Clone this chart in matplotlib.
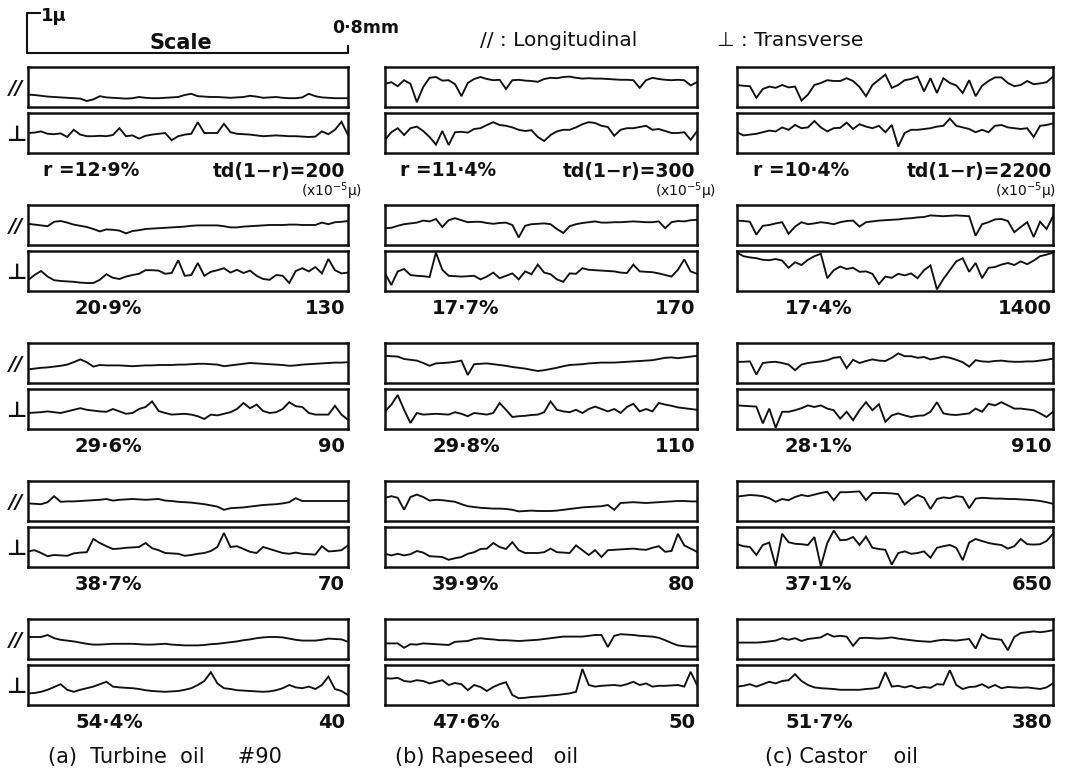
import matplotlib
matplotlib.use("Agg")
import matplotlib.pyplot as plt
import numpy as np

plt.rcParams['font.family'] = ['DejaVu Sans']

# ---------------- data (profile heights in 0.01 micron, 0.8 mm traverse) -------------
r_turbine = [12.9, 20.9, 29.6, 38.7, 54.4]
r_rapeseed = [11.4, 17.7, 29.8, 39.9, 47.6]
r_castor = [10.4, 17.4, 28.1, 37.1, 51.7]
td_turbine = [200, 130, 90, 70, 40]
td_rapeseed = [300, 170, 110, 80, 50]
td_castor = [2200, 1400, 910, 650, 380]
captions = ["(a)  Turbine  oil     #90", "(b) Rapeseed   oil", "(c) Castor    oil"]

turbine_long = [
    [31,30,28,26,25,24,23,22,21,15, 19,27,24,23,22,21,22,25,23,22, 22,23,24,25,30,33,27,26,25,25,
     24,23,24,25,28,26,23,24,25,23, 22,22,24,33,27,24,23,22,22,22],
    [53,51,49,47,58,60,56,51,48,45, 40,34,39,38,36,29,35,37,40,41, 42,43,44,45,46,48,49,49,49,49,
     47,44,44,46,47,48,49,50,50,50, 51,51,50,50,50,56,52,57,58,60],
    [34,36,38,39,41,43,46,52,59,52, 41,45,44,44,44,43,42,43,44,44, 45,45,45,46,46,47,48,48,47,46,
     42,44,46,48,50,49,48,47,46,45, 43,44,46,47,48,49,50,51,51,52],
    [44,43,42,47,62,48,49,49,50,51, 52,53,55,51,53,54,55,54,53,54, 55,51,50,48,47,46,44,42,39,36,
     28,32,33,34,36,38,40,41,42,44, 47,57,50,50,50,50,50,50,50,50],
    [55,55,55,60,52,48,46,44,41,38, 36,36,37,38,38,38,38,37,36,36, 37,38,36,35,34,34,34,35,37,38,
     40,42,44,47,49,52,54,55,55,54, 51,48,46,46,46,48,51,50,49,43],
]
turbine_trans = [
    [50,51,54,48,47,49,40,58,46,42, 42,43,42,45,62,42,44,36,43,46, 48,50,32,42,46,48,77,50,50,50,
     73,52,48,47,46,44,42,43,44,43, 42,42,41,40,41,54,47,58,78,45],
    [27,40,50,36,27,25,24,23,21,20, 20,28,42,33,30,36,40,43,52,52, 51,43,45,77,38,40,70,38,48,52,
     57,46,53,45,51,38,30,28,40,38, 20,50,57,49,60,44,80,52,44,46],
    [40,41,42,44,42,40,44,48,52,48, 46,44,43,50,44,38,40,50,55,69, 45,40,36,37,38,36,32,25,36,34,
     38,42,50,65,52,61,45,40,42,50, 67,57,55,40,36,36,36,58,36,23],
    [39,42,35,27,30,29,28,34,36,37, 70,60,52,45,46,48,49,50,60,47, 42,35,34,33,28,30,33,35,40,50,
     85,50,52,45,38,35,50,45,40,35, 33,36,33,32,31,52,39,40,42,54],
    [29,30,33,38,45,52,38,33,38,42, 46,52,58,46,44,43,42,40,37,35, 34,33,34,35,38,42,50,60,82,54,
     42,40,37,36,35,34,33,34,37,42, 50,44,42,46,40,50,71,40,35,25],
]
rapeseed_long = [
    [58,62,52,67,58,12,50,73,75,66, 67,57,27,60,70,75,70,67,68,45, 67,68,66,65,63,70,73,72,75,76,
     73,71,72,71,71,70,69,68,68,67, 48,67,73,70,68,67,68,67,54,62],
    [42,43,48,52,54,56,61,59,65,45, 62,67,62,57,58,58,55,53,55,56, 50,19,48,52,53,54,52,40,30,47,
     52,55,57,59,56,56,57,57,58,59, 58,57,57,59,42,57,60,59,62,63],
    [68,67,66,60,58,56,50,43,49,50, 51,53,56,20,47,48,49,47,45,43, 40,38,36,33,30,32,35,38,42,45,
     46,47,49,50,51,51,51,52,53,54, 55,56,57,60,63,64,62,64,66,68],
    [58,62,58,28,60,66,60,51,53,52, 50,48,42,37,35,33,32,31,31,30, 28,24,25,26,25,25,25,26,28,30,
     32,34,35,36,37,40,28,45,46,47, 46,45,46,47,48,49,50,50,49,49],
    [39,39,39,28,37,36,39,38,37,36, 35,43,44,45,50,52,50,49,47,47, 46,45,46,47,48,50,52,54,56,56,
     56,56,58,60,60,30,58,62,61,60, 58,57,56,53,47,40,34,32,31,31],
]
rapeseed_trans = [
    [33,52,62,45,62,66,55,40,21,55, 20,52,53,51,60,62,70,77,70,68, 64,58,55,57,40,30,45,54,58,58,
     64,72,77,75,68,65,43,58,62,62, 65,68,58,60,55,50,50,52,33,54],
    [44,15,49,55,40,38,37,35,96,53, 38,37,36,37,38,29,36,46,32,38, 44,29,49,42,66,46,42,29,23,44,
     43,57,53,52,51,50,49,46,45,66, 49,48,47,44,40,36,53,79,49,43],
    [44,61,85,48,15,40,36,37,38,37, 36,42,38,32,40,38,36,40,65,48, 30,32,33,35,36,42,69,48,44,42,
     48,40,50,56,50,44,50,40,55,63, 44,50,44,65,61,58,54,52,50,48],
    [33,29,33,29,32,40,36,27,26,25, 18,22,25,33,37,45,46,60,50,45, 62,42,35,35,35,37,46,37,36,35,
     54,42,30,42,25,42,43,44,45,46, 44,43,48,52,38,40,83,54,46,38],
    [67,66,68,60,58,62,60,54,58,62, 50,55,52,37,50,45,35,45,52,57, 25,17,18,20,21,22,24,25,27,29,
     33,90,50,46,48,49,50,48,52,58, 50,54,46,48,48,49,50,46,83,50],
]
castor_long = [
    [55,53,52,23,45,51,48,55,49,51, 16,31,55,60,67,65,65,72,65,50, 27,55,68,81,48,55,67,70,76,39,
     72,35,72,60,54,35,67,27,53,65, 74,74,60,52,55,65,57,59,62,76],
    [61,60,58,26,48,50,54,57,28,46, 57,52,54,57,55,52,57,60,61,46, 57,59,61,62,63,64,66,67,69,70,
     74,73,72,73,74,73,72,23,52,57, 64,65,60,32,45,57,20,58,40,72],
    [53,53,54,21,50,52,53,50,46,32, 46,50,52,54,57,63,65,37,58,50, 55,59,56,55,63,74,67,67,63,65,
     59,62,66,63,58,52,41,57,54,53, 55,56,54,53,53,54,54,56,58,61],
    [61,63,65,64,62,57,48,55,52,60, 65,62,66,70,73,52,72,72,73,74, 52,70,70,70,69,67,41,55,65,58,
     30,55,59,57,62,60,32,56,58,57, 56,56,55,55,54,53,52,50,47,43],
    [41,41,41,41,42,44,46,52,48,52, 45,50,52,54,63,56,58,56,33,52, 53,52,51,52,54,51,49,47,45,44,
     43,46,48,47,46,48,50,26,62,52, 50,48,22,55,65,67,69,67,69,72],
]
castor_trans = [
    [52,44,46,48,52,56,54,64,58,70, 62,64,80,64,54,62,63,76,60,72, 66,62,68,52,70,16,50,58,58,60,
     62,66,68,86,68,64,60,52,58,52, 68,70,64,62,60,62,40,68,70,74],
    [96,87,84,82,78,77,80,76,58,72, 65,78,87,93,32,52,61,55,58,48, 49,43,17,36,33,43,39,44,32,52,
     64,4,30,52,74,82,48,70,32,58, 60,66,70,65,74,67,76,87,91,96],
    [59,58,57,56,14,51,3,43,43,47, 52,59,55,59,51,47,26,43,22,47, 67,47,62,18,34,39,34,30,33,34,
     43,67,39,36,35,37,39,51,43,63, 59,67,59,51,51,49,47,39,30,43],
    [57,52,50,30,55,61,2,83,62,58, 57,55,75,2,60,91,67,68,75,55, 76,48,45,43,6,35,39,33,35,39,
     23,48,52,55,48,17,61,70,65,60, 57,55,46,52,70,57,56,57,65,83],
    [46,48,52,46,52,58,54,60,62,77, 60,50,44,42,41,40,38,38,38,38, 40,41,44,82,46,48,44,48,42,45,
     43,52,51,87,50,40,45,46,52,43, 50,42,45,44,43,44,42,40,44,54],
]

# ---------------- layout ------------------------------------------------------------
W, H = 1066, 771
fig = plt.figure(figsize=(W / 100, H / 100), dpi=100)
ink = '#111111'

col_left = [28, 385, 737]
col_right = [348, 697, 1053]
pitch = 138
long_top, trans_top, box_h = 67, 113, 40

columns = [
    (turbine_long, turbine_trans, r_turbine, td_turbine),
    (rapeseed_long, rapeseed_trans, r_rapeseed, td_rapeseed),
    (castor_long, castor_trans, r_castor, td_castor),
]

for c, (longs, transs, rs, tds) in enumerate(columns):
    L, R = col_left[c], col_right[c]
    for k in range(5):
        for top, vals in ((long_top + pitch * k, longs[k]), (trans_top + pitch * k, transs[k])):
            ax = fig.add_axes([L / W, 1 - (top + box_h) / H, (R - L) / W, box_h / H])
            v = np.array(vals, dtype=float) / 100.0
            x = np.linspace(0.0, 0.8, len(v))
            ax.plot(x, v, color=ink, lw=1.35, solid_joinstyle='miter')
            ax.set_xlim(0, 0.8)
            ax.set_ylim(0, 1)
            ax.set_xticks([])
            ax.set_yticks([])
            for s in ax.spines.values():
                s.set_linewidth(1.8)
                s.set_color(ink)

# overlay for annotations in pixel coordinates
ov = fig.add_axes([0, 0, 1, 1], zorder=5)
ov.set_xlim(0, W)
ov.set_ylim(H, 0)
ov.axis('off')
ov.patch.set_alpha(0)

tw = dict(color=ink, fontweight='bold')

# scale bracket
ov.plot([40, 27, 27, 348, 348], [13, 13, 53, 53, 46], color=ink, lw=1.5)
ov.text(41, 16, "1μ", fontsize=13, va='center', ha='left', **tw)
ov.text(181, 43, "Scale", fontsize=15, va='center', ha='center', **tw)
ov.text(332, 28, "0·8mm", fontsize=12.5, va='center', ha='left', **tw)
ov.text(480, 40, "// : Longitudinal", fontsize=14.5, va='center', ha='left', color=ink)
ov.text(717, 40, "⊥ : Transverse", fontsize=14.5, va='center', ha='left', color=ink)

# side symbols
for k in range(5):
    ov.text(16, long_top + pitch * k + box_h / 2 + 1, "//", fontsize=14, va='center',
            ha='center', color=ink, fontstyle='italic', fontweight='bold')
    ov.text(16, trans_top + pitch * k + box_h / 2 + 2, "⊥", fontsize=16, va='center',
            ha='center', **tw)

def fmt(v):
    return f"{v:.1f}".replace('.', '·') + '%'

pct_left = [75, 432, 785]
first_left = [43, 400, 753]
num_right = [345, 695, 1052]
unit_right = [362, 716, 1056]
for c, (longs, transs, rs, tds) in enumerate(columns):
    for k in range(5):
        yc = 171 + pitch * k
        if k == 0:
            ov.text(first_left[c], yc, "r =" + fmt(rs[k]), fontsize=13.5, va='center',
                    ha='left', **tw)
            ov.text(num_right[c], yc, f"td(1−r)={tds[k]}", fontsize=13.5, va='center',
                    ha='right', **tw)
            ov.text(unit_right[c], 191, "(x10$^{-5}$μ)", fontsize=10, va='center',
                    ha='right', color=ink)
        else:
            ov.text(pct_left[c], yc, fmt(rs[k]), fontsize=14, va='center', ha='left', **tw)
            ov.text(num_right[c], yc, f"{tds[k]}", fontsize=14, va='center', ha='right', **tw)

cap_left = [48, 395, 765]
for c in range(3):
    ov.text(cap_left[c], 757, captions[c], fontsize=15, va='center', ha='left', color=ink)

fig.savefig("out.png", dpi=100)
